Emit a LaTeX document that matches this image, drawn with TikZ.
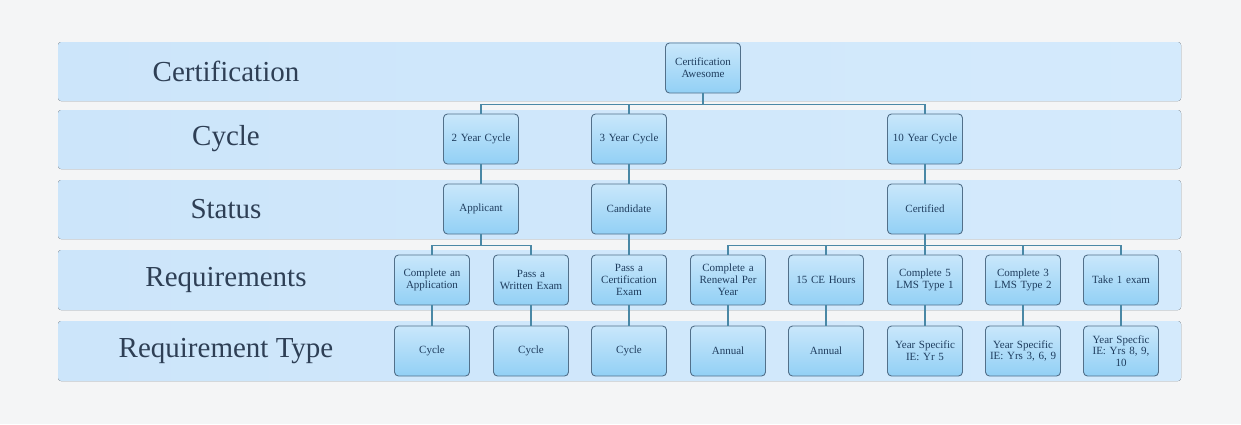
\documentclass[tikz,border=0pt]{standalone}
\usepackage{fontspec}
\setmainfont{Liberation Serif}
\definecolor{bgc}{HTML}{F4F5F6}
\definecolor{bandc}{HTML}{CCE5FA}
\definecolor{bandr}{HTML}{D4EAFC}
\definecolor{labc}{HTML}{2E3F55}
\definecolor{nodetop}{HTML}{C9E7FB}
\definecolor{nodebot}{HTML}{92D0F5}
\definecolor{nodeline}{HTML}{52708A}
\definecolor{nodetext}{HTML}{1F3D5E}
\definecolor{linkc}{HTML}{4A88A6}
\begin{document}
\begin{tikzpicture}[x=1pt,y=-1pt,
  band/.style={rounded corners=3pt,left color=bandc,right color=bandr,draw=none},
  lab/.style={text=labc,font=\fontsize{29}{32}\selectfont},
  box/.style={rounded corners=4pt,top color=nodetop,bottom color=nodebot,draw=nodeline,line width=0.9pt,
    minimum width=75pt,minimum height=50pt,inner sep=1pt,align=center,text width=72pt,
    text=nodetext,font=\fontsize{11}{11.8}\selectfont},
  link/.style={draw=linkc,line width=1.4pt}]
\fill[bgc] (0,0) rectangle (1241,424);
\useasboundingbox (0,0) rectangle (1241,424);
% bands
\fill[band] (58,42) rectangle (1181,101);
\fill[band] (58,110) rectangle (1181,169);
\fill[band] (58,180) rectangle (1181,239);
\fill[band] (58,250) rectangle (1181,310);
\fill[band] (58,321) rectangle (1181,381);
% labels
\node[lab] (l1) at (226,71) {Certification};
\node[lab] (l2) at (226,139) {Cycle};
\node[lab] (l3) at (226,209) {Status};
\node[lab] (l4) at (226,280) {Requirements};
\node[lab] (l5) at (226,351) {Requirement Type};
% nodes
\node[box] (top) at (703,68) {Certification\\Awesome};
\node[box] (c2) at (481,139) {2 Year Cycle};
\node[box] (c3) at (629,139) {3 Year Cycle};
\node[box] (c10) at (925,139) {10 Year Cycle};
\node[box] (s1) at (481,209) {Applicant};
\node[box] (s2) at (629,209) {Candidate};
\node[box] (s3) at (925,209) {Certified};
\node[box] (r1) at (432,280) {Complete an\\Application};
\node[box] (r2) at (531,280) {Pass a\\Written Exam};
\node[box] (r3) at (629,280) {Pass a\\Certification\\Exam};
\node[box] (r4) at (728,280) {Complete a\\Renewal Per\\Year};
\node[box] (r5) at (826,280) {15 CE Hours};
\node[box] (r6) at (925,280) {Complete 5\\LMS Type 1};
\node[box] (r7) at (1023,280) {Complete 3\\LMS Type 2};
\node[box] (r8) at (1121,280) {Take 1 exam};
\node[box] (t1) at (432,351) {Cycle};
\node[box] (t2) at (531,351) {Cycle};
\node[box] (t3) at (629,351) {Cycle};
\node[box] (t4) at (728,351) {Annual};
\node[box] (t5) at (826,351) {Annual};
\node[box] (t6) at (925,351) {Year Specific\\IE: Yr 5};
\node[box] (t7) at (1023,351) {Year Specific\\IE: Yrs 3, 6, 9};
\node[box] (t8) at (1121,351) {Year Specfic\\IE: Yrs 8, 9,\\10};
% connectors
\foreach \c in {c2,c3,c10} \draw[link] (top.south) -- ++(0,11) -| (\c.north);
\draw[link] (c2) -- (s1);
\draw[link] (c3) -- (s2);
\draw[link] (c10) -- (s3);
\foreach \r in {r1,r2} \draw[link] (s1.south) -- ++(0,11) -| (\r.north);
\draw[link] (s2) -- (r3);
\foreach \r in {r4,r5,r6,r7,r8} \draw[link] (s3.south) -- ++(0,11) -| (\r.north);
\foreach \i in {1,...,8} \draw[link] (r\i) -- (t\i);
\end{tikzpicture}
\end{document}
